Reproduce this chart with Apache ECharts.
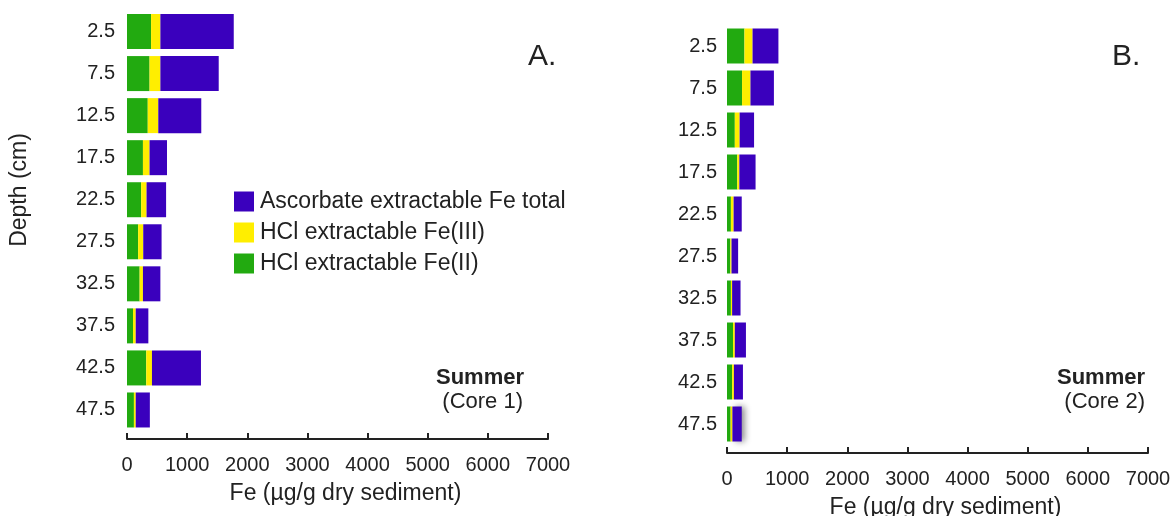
<!DOCTYPE html>
<html>
<head>
<meta charset="utf-8">
<script src="https://cdn.jsdelivr.net/npm/echarts@6/dist/echarts.min.js"></script>
<style>
  html, body { margin: 0; padding: 0; background: #fff; }
  #chart { width: 1175px; height: 516px; }
</style>
</head>
<body>
<div id="chart"></div>
<script>
// depth intervals (cm), top of core first
const depths = ['2.5', '7.5', '12.5', '17.5', '22.5', '27.5', '32.5', '37.5', '42.5', '47.5'];

// Core 1 (panel A), segment lengths in µg/g
const core1Fe2 = [400, 375, 345, 265, 235, 185, 210, 100, 320, 115];
const core1Fe3 = [155, 180, 175, 110, 90, 85, 55, 45, 95, 30];
const core1Asc = [1220, 970, 715, 290, 325, 305, 290, 210, 815, 235];

// Core 2 (panel B)
const core2Fe2 = [290, 250, 130, 170, 65, 55, 65, 100, 85, 60];
const core2Fe3 = [135, 140, 80, 35, 45, 20, 20, 30, 30, 30];
const core2Asc = [430, 390, 240, 270, 135, 110, 140, 185, 150, 155];

const xTicks = [0, 1000, 2000, 3000, 4000, 5000, 6000, 7000];

const FONT = "'Liberation Sans', Arial, sans-serif";
const INK = '#222';
const GREEN = '#22aa10';
const YELLOW = '#ffee00';
const BLUE = '#3a00bd';

const NAME_ASC = 'Ascorbate extractable Fe total';
const NAME_FE3 = 'HCl extractable Fe(III)';
const NAME_FE2 = 'HCl extractable Fe(II)';

function xAxisFor(gridIndex, offset) {
  return {
    gridIndex,
    type: 'value',
    min: xTicks[0],
    max: xTicks[xTicks.length - 1],
    interval: 1000,
    offset,
    name: 'Fe (µg/g dry sediment)',
    nameLocation: 'middle',
    nameGap: 43,
    nameTextStyle: { fontFamily: FONT, fontSize: 23, color: INK, padding: [0, 0, 0, 16] },
    axisLine: { show: true, lineStyle: { color: INK, width: 2 } },
    axisTick: { show: true, inside: true, length: 6, lineStyle: { color: INK, width: 2 } },
    axisLabel: { fontFamily: FONT, fontSize: 20, color: INK, margin: 16, formatter: v => String(v) },
    splitLine: { show: false }
  };
}

function yAxisFor(gridIndex, margin) {
  return {
    gridIndex,
    type: 'category',
    data: depths,
    inverse: true,
    axisLine: { show: false },
    axisTick: { show: false },
    axisLabel: { fontFamily: FONT, fontSize: 20, color: INK, margin },
    splitLine: { show: false }
  };
}

function barSeries(name, data, color, idx) {
  return {
    name,
    type: 'bar',
    stack: 'core' + idx,
    xAxisIndex: idx,
    yAxisIndex: idx,
    barWidth: 35,
    data,
    itemStyle: { color },
    emphasis: { disabled: true }
  };
}

// the last blue bar of core 2 has a soft shadow in the original
const core2AscItems = core2Asc.map((v, i) => i === core2Asc.length - 1
  ? { value: v, itemStyle: { shadowBlur: 6, shadowOffsetX: 3, shadowColor: 'rgba(0,0,0,0.45)' } }
  : v);

let chart = echarts.init(document.getElementById('chart'), null, { renderer: 'canvas' });

chart.setOption({
  animation: false,
  backgroundColor: '#fff',
  grid: [
    { left: 127, right: 627, top: 10.5, bottom: 85, outerBoundsMode: 'none', containLabel: false },
    { left: 727, right: 27, top: 25, bottom: 71, outerBoundsMode: 'none', containLabel: false }
  ],
  xAxis: [xAxisFor(0, 8), xAxisFor(1, 8)],
  yAxis: [yAxisFor(0, 12), yAxisFor(1, 10)],
  legend: {
    orient: 'vertical',
    left: 229,
    top: 185,
    icon: 'rect',
    itemWidth: 20,
    itemHeight: 20,
    itemGap: 8,
    textStyle: { fontFamily: FONT, fontSize: 23, color: INK, padding: [0, 0, 0, 1] },
    data: [NAME_ASC, NAME_FE3, NAME_FE2],
    selectedMode: false
  },
  series: [
    barSeries(NAME_FE2, core1Fe2, GREEN, 0),
    barSeries(NAME_FE3, core1Fe3, YELLOW, 0),
    barSeries(NAME_ASC, core1Asc, BLUE, 0),
    barSeries(NAME_FE2, core2Fe2, GREEN, 1),
    barSeries(NAME_FE3, core2Fe3, YELLOW, 1),
    barSeries(NAME_ASC, core2AscItems, BLUE, 1)
  ],
  graphic: [
    {
      type: 'text', x: 20, y: 190, rotation: Math.PI / 2,
      style: { text: 'Depth (cm)', font: '23px ' + FONT, fill: INK, align: 'center', verticalAlign: 'middle' }
    },
    {
      type: 'text', x: 528, y: 57,
      style: { text: 'A.', font: '30px ' + FONT, fill: INK, align: 'left', verticalAlign: 'middle' }
    },
    {
      type: 'text', x: 1112, y: 57,
      style: { text: 'B.', font: '30px ' + FONT, fill: INK, align: 'left', verticalAlign: 'middle' }
    },
    {
      type: 'text', x: 524, y: 378,
      style: { text: 'Summer', font: 'bold 22px ' + FONT, fill: INK, align: 'right', verticalAlign: 'middle' }
    },
    {
      type: 'text', x: 523, y: 402,
      style: { text: '(Core 1)', font: '22px ' + FONT, fill: INK, align: 'right', verticalAlign: 'middle' }
    },
    {
      type: 'text', x: 1145, y: 378,
      style: { text: 'Summer', font: 'bold 22px ' + FONT, fill: INK, align: 'right', verticalAlign: 'middle' }
    },
    {
      type: 'text', x: 1145, y: 402,
      style: { text: '(Core 2)', font: '22px ' + FONT, fill: INK, align: 'right', verticalAlign: 'middle' }
    }
  ]
});
</script>
</body>
</html>
